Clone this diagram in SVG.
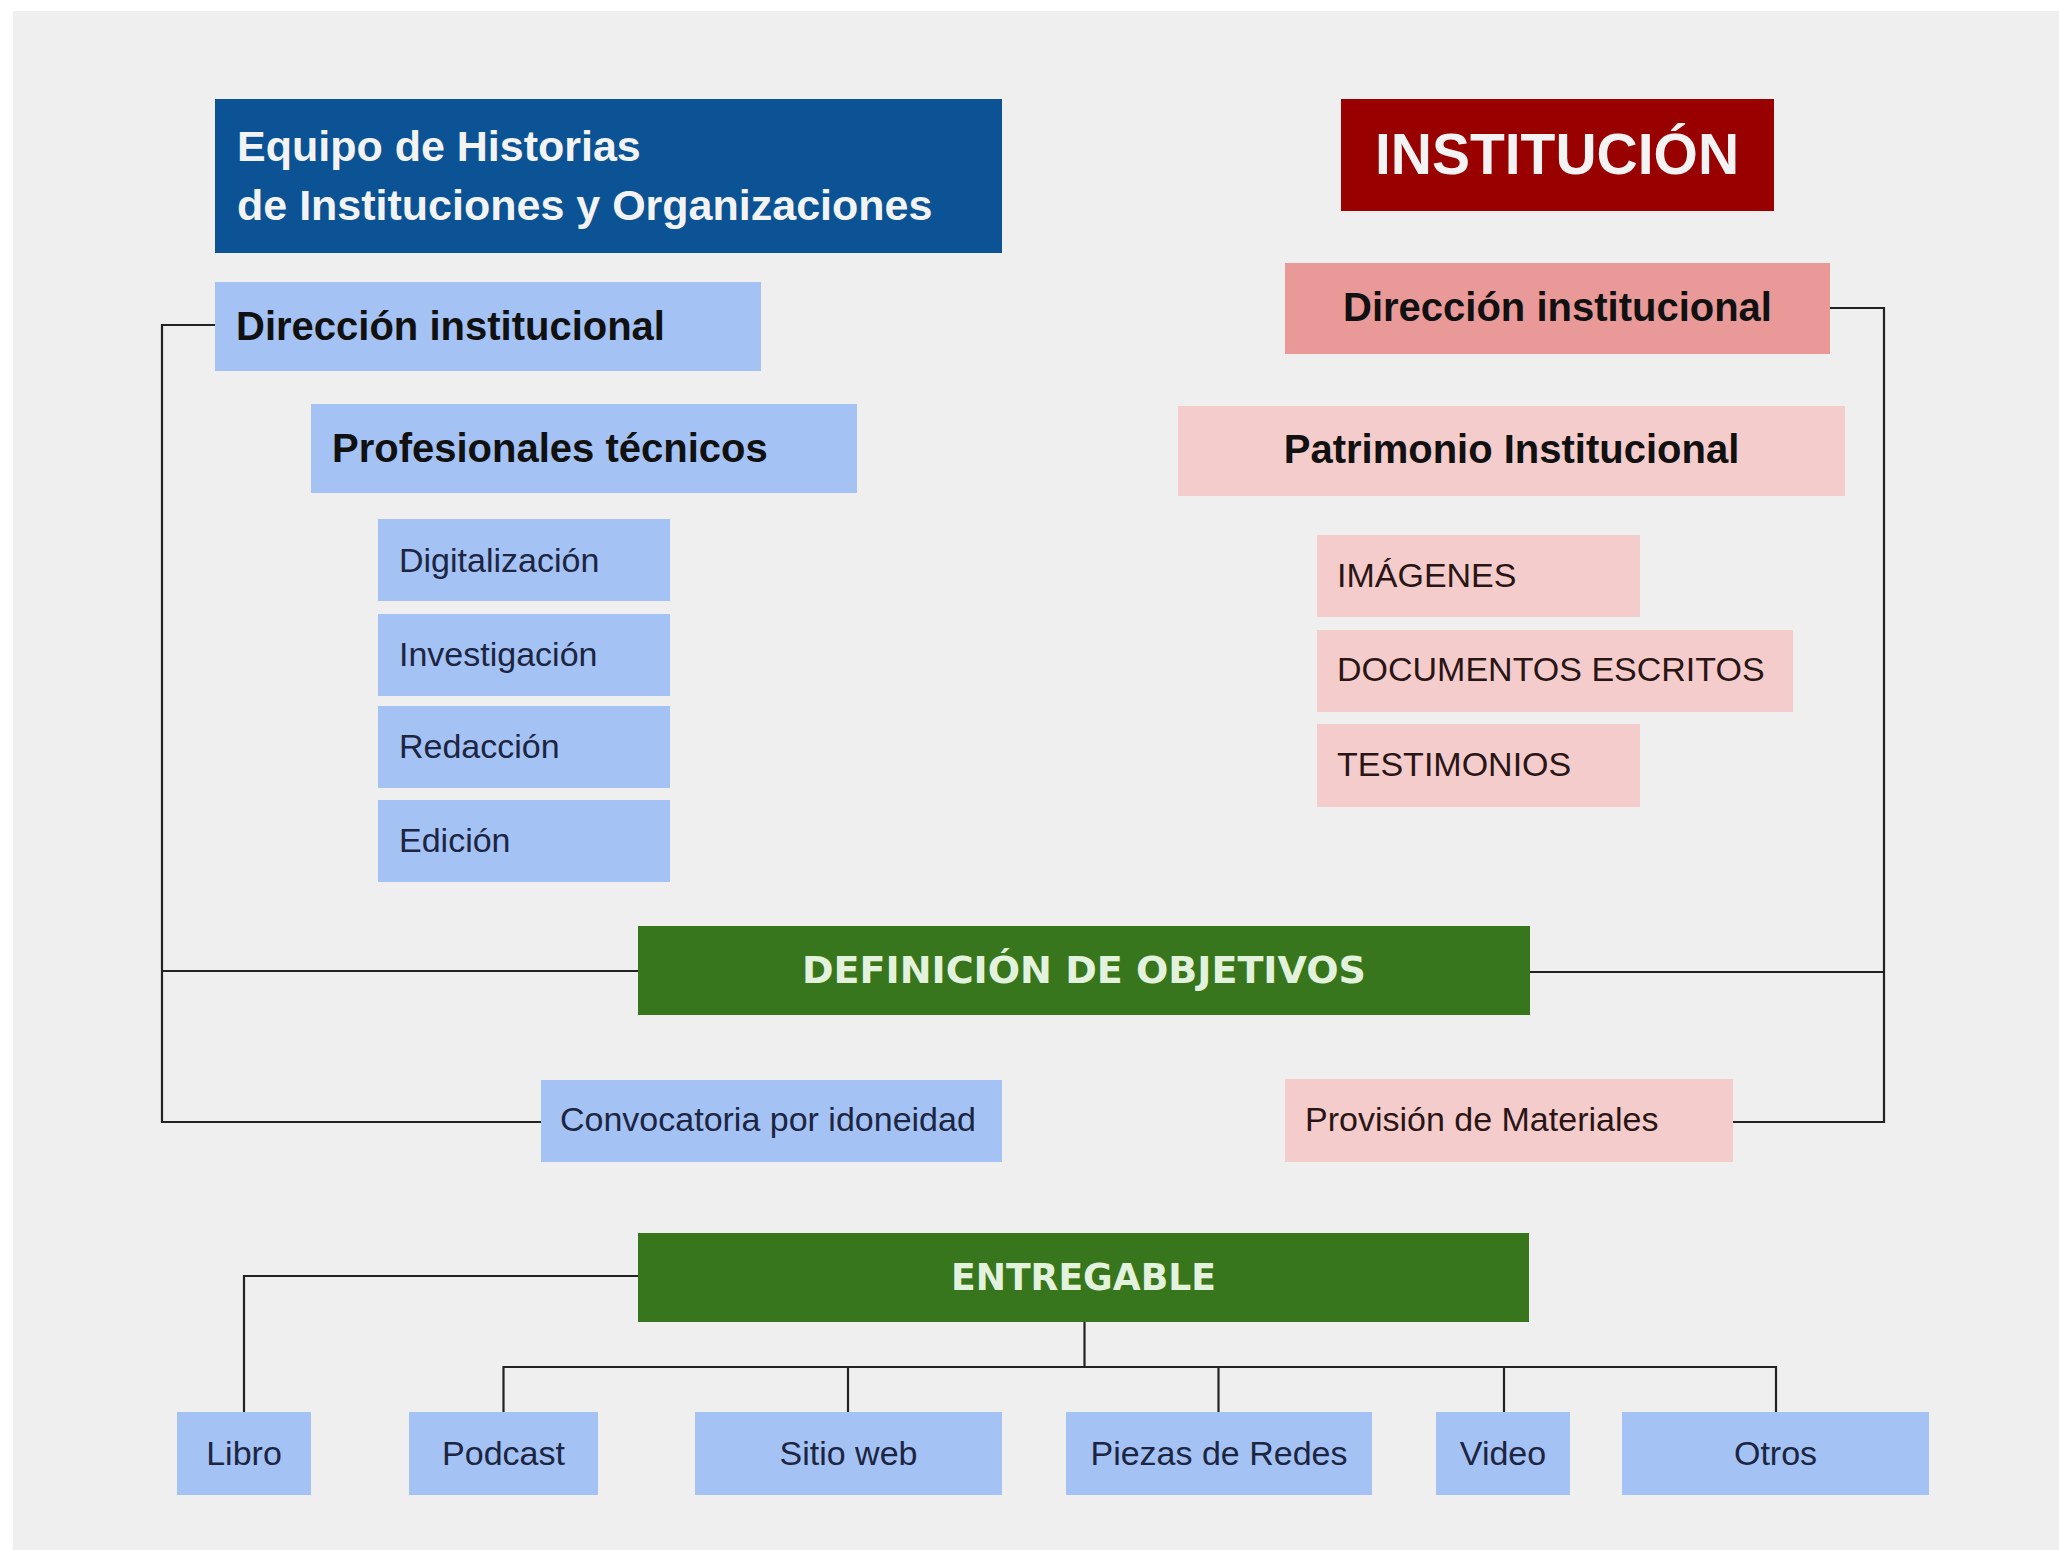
<svg xmlns="http://www.w3.org/2000/svg" width="2059" height="1550" viewBox="0 0 2059 1550">
<style>
.b{fill:#a4c2f4}
.p{fill:#f4cccc}
.s{fill:#ea9999}
.g{fill:#38761d}
.t{font-family:"Liberation Sans",Arial,sans-serif}
.hb{font-weight:bold;font-size:40px;fill:#111111}
.r{font-size:34px}
.rb{fill:#1c2541}
.rp{fill:#2a1515}
.v{font-family:"DejaVu Sans",Verdana,sans-serif;font-weight:bold;font-size:37px;fill:#e3f2dc}
.c{fill:none;stroke:#222222;stroke-width:2.2}
</style>
<rect x="0" y="0" width="2059" height="1550" fill="#ffffff"/>
<rect x="13" y="11" width="2046" height="1539" fill="#efefef"/>
<g id="connectors">
<polyline class="c" points="215,325 162,325 162,1122 541,1122"/>
<line class="c" x1="162" y1="971" x2="638" y2="971"/>
<polyline class="c" points="1830,308 1884,308 1884,1122 1733,1122"/>
<line class="c" x1="1530" y1="972" x2="1884" y2="972"/>
<polyline class="c" points="638,1276 244,1276 244,1412"/>
<line class="c" x1="1084.5" y1="1322" x2="1084.5" y2="1367"/>
<line class="c" x1="503.5" y1="1367" x2="1776" y2="1367"/>
<line class="c" x1="503.5" y1="1366" x2="503.5" y2="1412"/>
<line class="c" x1="848" y1="1367" x2="848" y2="1412"/>
<line class="c" x1="1218.5" y1="1367" x2="1218.5" y2="1412"/>
<line class="c" x1="1504" y1="1367" x2="1504" y2="1412"/>
<line class="c" x1="1776" y1="1366" x2="1776" y2="1412"/>
</g>
<g id="equipo">
<rect x="215" y="99" width="787" height="154" fill="#0b5394"/>
<text class="t" x="237" y="161" font-size="43" font-weight="bold" fill="#f3f3f3">Equipo de Historias</text>
<text class="t" x="237" y="220" font-size="43" font-weight="bold" fill="#f3f3f3">de Instituciones y Organizaciones</text>
</g>
<g id="institucion">
<rect x="1341" y="99" width="433" height="112" fill="#990000"/>
<text class="t" x="1557" y="174" font-size="57" font-weight="bold" fill="#f3f3f3" text-anchor="middle">INSTITUCIÓN</text>
</g>
<g id="direccion-equipo">
<rect class="b" x="215" y="282" width="546" height="89"/>
<text class="t hb" x="236" y="340">Dirección institucional</text>
</g>
<g id="profesionales">
<rect class="b" x="311" y="404" width="546" height="89"/>
<text class="t hb" x="332" y="462">Profesionales técnicos</text>
</g>
<g id="digitalizacion">
<rect class="b" x="378" y="519" width="292" height="82"/>
<text class="t r rb" x="399" y="572">Digitalización</text>
</g>
<g id="investigacion">
<rect class="b" x="378" y="614" width="292" height="82"/>
<text class="t r rb" x="399" y="666">Investigación</text>
</g>
<g id="redaccion">
<rect class="b" x="378" y="706" width="292" height="82"/>
<text class="t r rb" x="399" y="758">Redacción</text>
</g>
<g id="edicion">
<rect class="b" x="378" y="800" width="292" height="82"/>
<text class="t r rb" x="399" y="852">Edición</text>
</g>
<g id="direccion-institucion">
<rect class="s" x="1285" y="263" width="545" height="91"/>
<text class="t hb" x="1557.5" y="321" text-anchor="middle">Dirección institucional</text>
</g>
<g id="patrimonio">
<rect class="p" x="1178" y="406" width="667" height="90"/>
<text class="t hb" x="1511.5" y="463" text-anchor="middle">Patrimonio Institucional</text>
</g>
<g id="imagenes">
<rect class="p" x="1317" y="535" width="323" height="82"/>
<text class="t r rp" x="1337" y="587">IMÁGENES</text>
</g>
<g id="documentos">
<rect class="p" x="1317" y="630" width="476" height="82"/>
<text class="t r rp" x="1337" y="681">DOCUMENTOS ESCRITOS</text>
</g>
<g id="testimonios">
<rect class="p" x="1317" y="724" width="323" height="83"/>
<text class="t r rp" x="1337" y="776">TESTIMONIOS</text>
</g>
<g id="definicion">
<rect class="g" x="638" y="926" width="892" height="89"/>
<text class="v" x="802" y="983" textLength="564" lengthAdjust="spacingAndGlyphs">DEFINICIÓN DE OBJETIVOS</text>
</g>
<g id="convocatoria">
<rect class="b" x="541" y="1080" width="461" height="82"/>
<text class="t r rb" x="560" y="1131">Convocatoria por idoneidad</text>
</g>
<g id="provision">
<rect class="p" x="1285" y="1079" width="448" height="83"/>
<text class="t r rp" x="1305" y="1131">Provisión de Materiales</text>
</g>
<g id="entregable">
<rect class="g" x="638" y="1233" width="891" height="89"/>
<text class="v" x="951" y="1290" textLength="265" lengthAdjust="spacingAndGlyphs">ENTREGABLE</text>
</g>
<g id="libro">
<rect class="b" x="177" y="1412" width="134" height="83"/>
<text class="t r rb" x="244" y="1465" text-anchor="middle">Libro</text>
</g>
<g id="podcast">
<rect class="b" x="409" y="1412" width="189" height="83"/>
<text class="t r rb" x="503.5" y="1465" text-anchor="middle">Podcast</text>
</g>
<g id="sitio-web">
<rect class="b" x="695" y="1412" width="307" height="83"/>
<text class="t r rb" x="848.5" y="1465" text-anchor="middle">Sitio web</text>
</g>
<g id="piezas">
<rect class="b" x="1066" y="1412" width="306" height="83"/>
<text class="t r rb" x="1219" y="1465" text-anchor="middle">Piezas de Redes</text>
</g>
<g id="video">
<rect class="b" x="1436" y="1412" width="134" height="83"/>
<text class="t r rb" x="1503" y="1465" text-anchor="middle">Video</text>
</g>
<g id="otros">
<rect class="b" x="1622" y="1412" width="307" height="83"/>
<text class="t r rb" x="1775.5" y="1465" text-anchor="middle">Otros</text>
</g>
</svg>
